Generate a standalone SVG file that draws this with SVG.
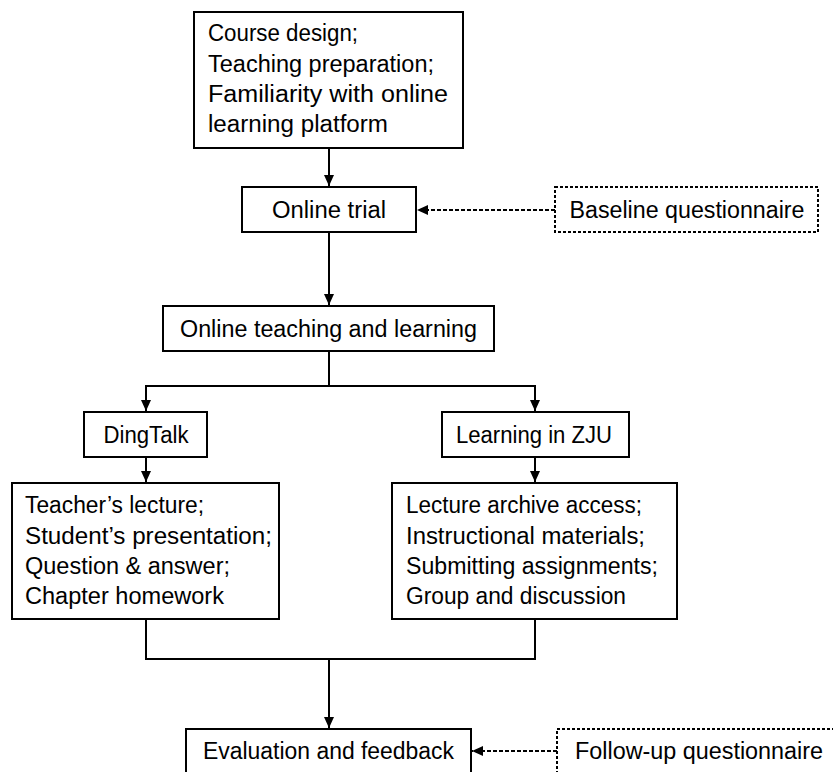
<svg xmlns="http://www.w3.org/2000/svg" width="833" height="772" viewBox="0 0 833 772">
<style>
.box{fill:#fff;stroke:#000;stroke-width:2}
.dbox{fill:#fff;stroke:#000;stroke-width:2;stroke-dasharray:3 2}
.t{font-family:"Liberation Sans",Arial,sans-serif;font-size:23.5px;fill:#000}
.c{text-anchor:middle}
.ln{fill:none;stroke:#000;stroke-width:2}
.dl{fill:none;stroke:#000;stroke-width:2;stroke-dasharray:4 2}
</style>
<defs>
<marker id="ah" markerUnits="userSpaceOnUse" markerWidth="12" markerHeight="10" refX="11" refY="5" orient="auto">
<path d="M0,0 L11,5 L0,10 Z" fill="#000"/>
</marker>
</defs>
<rect width="833" height="772" fill="#fff"/>
<g id="connectors">
<path class="ln" d="M329 148 V186" marker-end="url(#ah)"/>
<path class="dl" d="M555 210 H417" marker-end="url(#ah)"/>
<path class="ln" d="M329 232 V305" marker-end="url(#ah)"/>
<path class="ln" d="M329 351 V386 H146 V411" marker-end="url(#ah)"/>
<path class="ln" d="M329 386 H535 V411" marker-end="url(#ah)"/>
<path class="ln" d="M146 457 V482" marker-end="url(#ah)"/>
<path class="ln" d="M535 457 V482" marker-end="url(#ah)"/>
<path class="ln" d="M146 619 V659 H535 V619"/>
<path class="ln" d="M329 659 V728" marker-end="url(#ah)"/>
<path class="dl" d="M557 751 H472" marker-end="url(#ah)"/>
</g>
<g id="prep">
<rect class="box" x="194" y="12" width="269" height="136"/>
<text class="t" x="208" y="41" textLength="150" lengthAdjust="spacingAndGlyphs">Course design;</text>
<text class="t" x="208" y="72" textLength="226" lengthAdjust="spacingAndGlyphs">Teaching preparation;</text>
<text class="t" x="208" y="102" textLength="240" lengthAdjust="spacingAndGlyphs">Familiarity with online</text>
<text class="t" x="208" y="132" textLength="180" lengthAdjust="spacingAndGlyphs">learning platform</text>
</g>
<g id="trial">
<rect class="box" x="242" y="187" width="174" height="45"/>
<text class="t c" x="329" y="218" textLength="114" lengthAdjust="spacingAndGlyphs">Online trial</text>
</g>
<g id="baseline">
<rect class="dbox" x="555" y="187" width="263" height="45"/>
<text class="t c" x="687" y="218" textLength="235" lengthAdjust="spacingAndGlyphs">Baseline questionnaire</text>
</g>
<g id="online">
<rect class="box" x="163" y="306" width="331" height="45"/>
<text class="t c" x="328.5" y="337" textLength="297" lengthAdjust="spacingAndGlyphs">Online teaching and learning</text>
</g>
<g id="dingtalk">
<rect class="box" x="84" y="412" width="123" height="45"/>
<text class="t c" x="146" y="443" textLength="85" lengthAdjust="spacingAndGlyphs">DingTalk</text>
</g>
<g id="zju">
<rect class="box" x="442" y="412" width="187" height="45"/>
<text class="t c" x="534" y="443" textLength="156" lengthAdjust="spacingAndGlyphs">Learning in ZJU</text>
</g>
<g id="dingtalk-activities">
<rect class="box" x="12" y="483" width="267" height="136"/>
<text class="t" x="25" y="513" textLength="179" lengthAdjust="spacingAndGlyphs">Teacher’s lecture;</text>
<text class="t" x="25" y="544" textLength="247" lengthAdjust="spacingAndGlyphs">Student’s  presentation;</text>
<text class="t" x="25" y="574" textLength="205" lengthAdjust="spacingAndGlyphs">Question &amp; answer;</text>
<text class="t" x="25" y="604" textLength="199" lengthAdjust="spacingAndGlyphs">Chapter homework</text>
</g>
<g id="zju-activities">
<rect class="box" x="392" y="483" width="285" height="136"/>
<text class="t" x="406" y="513" textLength="236" lengthAdjust="spacingAndGlyphs">Lecture archive access;</text>
<text class="t" x="406" y="544" textLength="239" lengthAdjust="spacingAndGlyphs">Instructional materials;</text>
<text class="t" x="406" y="574" textLength="252" lengthAdjust="spacingAndGlyphs">Submitting assignments;</text>
<text class="t" x="406" y="604" textLength="220" lengthAdjust="spacingAndGlyphs">Group and discussion</text>
</g>
<g id="evaluation">
<rect class="box" x="186" y="729" width="285" height="60"/>
<text class="t c" x="328.5" y="759" textLength="251" lengthAdjust="spacingAndGlyphs">Evaluation and feedback</text>
</g>
<g id="followup">
<rect class="dbox" x="557" y="729" width="290" height="60"/>
<text class="t" x="575" y="759" textLength="248" lengthAdjust="spacingAndGlyphs">Follow-up questionnaire</text>
</g>
</svg>
